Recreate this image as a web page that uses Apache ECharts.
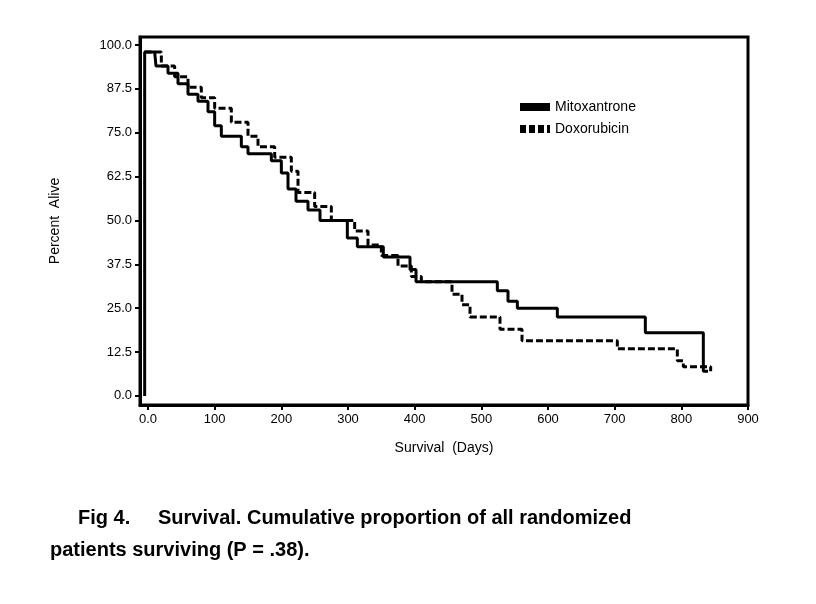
<!DOCTYPE html>
<html>
<head>
<meta charset="utf-8">
<script src="https://cdn.jsdelivr.net/npm/echarts@6/dist/echarts.min.js"></script>
<style>html,body{margin:0;background:#fff}#main_chart{width:816px;height:604px}</style>
</head>
<body>
<div id="main_chart"></div>
<script>
// 数据：[天数, 存活百分比]
var mitoxantrone = [[-5, 0], [-5, 98], [10, 98], [12, 94], [30, 92], [45, 89], [60, 86], [75, 84], [90, 81], [100, 77], [110, 74], [140, 71], [150, 69], [185, 67], [200, 63.5], [210, 59], [222, 55.5], [240, 53], [258, 50], [299, 45], [314, 42.5], [353, 39.6], [393, 36], [402, 32.5], [524, 30], [540, 27], [554, 25], [614, 22.5], [746, 18], [833, 7], [840, 7]];
var doxorubicin = [[-5, 98], [15, 98], [20, 94], [40, 91], [60, 88], [80, 85], [100, 82], [125, 78], [150, 74], [165, 71], [190, 68], [215, 64], [225, 58], [250, 54], [275, 50], [310, 47], [330, 43], [350, 40], [375, 37], [395, 34], [410, 32.5], [456, 29], [471, 26], [483, 22.5], [528, 19], [561, 15.7], [704, 13.4], [794, 10], [803, 8.3], [844, 7]];
var xTicks = [0, 100, 200, 300, 400, 500, 600, 700, 800, 900];
var yTicks = [0, 12.5, 25, 37.5, 50, 62.5, 75, 87.5, 100];

const myChart = echarts.init(document.getElementById('main_chart'));
var font = 'Liberation Sans';
var option = {
    animation: false,
    textStyle: {fontFamily: font, color: '#000'},
    grid: {left: 140, right: 68, top: 37, bottom: 199},
    legend: {
        orient: 'vertical', left: 515, top: 95, itemGap: 8, itemWidth: 30, itemHeight: 10,
        textStyle: {fontSize: 14, color: '#000', fontFamily: font},
        data: [
            {name: 'Mitoxantrone', icon: 'path://M0,0H30V8H0Z'},
            {name: 'Doxorubicin', icon: 'path://M0,0H6V8H0ZM9,0H15V8H9ZM18,0H24V8H18ZM27,0H30V8H27Z'}
        ],
        itemStyle: {color: '#000'}
    },
    xAxis: {
        type: 'value', min: -12, max: 900,
        name: 'Survival  (Days)', nameLocation: 'middle', nameGap: 36,
        nameTextStyle: {fontSize: 14, color: '#000'},
        axisLine: {show: true, onZero: false, lineStyle: {color: '#000', width: 3}},
        axisTick: {show: true, customValues: xTicks, length: 5, lineStyle: {color: '#000', width: 2}},
        axisLabel: {customValues: xTicks, fontSize: 13, color: '#000', formatter: function (v) { return v === 0 ? '0.0' : v; }},
        splitLine: {show: false}
    },
    yAxis: {
        type: 'value', min: -2.6, max: 102.3,
        name: 'Percent  Alive', nameLocation: 'middle', nameGap: 78,
        nameTextStyle: {fontSize: 14, color: '#000'},
        axisLine: {show: true, onZero: false, lineStyle: {color: '#000', width: 3}},
        axisTick: {show: true, customValues: yTicks, length: 5, lineStyle: {color: '#000', width: 2}},
        axisLabel: {customValues: yTicks, fontSize: 13, color: '#000', formatter: function (v) { return v.toFixed(1); }},
        splitLine: {show: false}
    },
    graphic: [
        {type: 'rect', shape: {x: 140, y: 37, width: 608, height: 368}, style: {fill: 'none', stroke: '#000', lineWidth: 3}, silent: true},
        {type: 'text', left: 78, top: 508, style: {text: 'Fig 4.     Survival. Cumulative proportion of all randomized', font: 'bold 20px ' + font, fill: '#000'}},
        {type: 'text', left: 50, top: 540, style: {text: 'patients surviving (P = .38).', font: 'bold 20px ' + font, fill: '#000'}}
    ],
    series: [
        {name: 'Mitoxantrone', type: 'line', step: 'end', data: mitoxantrone, symbol: 'none',
         lineStyle: {color: '#000', width: 3}, itemStyle: {color: '#000'}},
        {name: 'Doxorubicin', type: 'line', step: 'end', data: doxorubicin, symbol: 'none',
         lineStyle: {color: '#000', width: 3, type: [7, 3]}, itemStyle: {color: '#000'}}
    ]
};
myChart.setOption(option);
window.onresize = function () { myChart.resize(); };
</script>
</body>
</html>
